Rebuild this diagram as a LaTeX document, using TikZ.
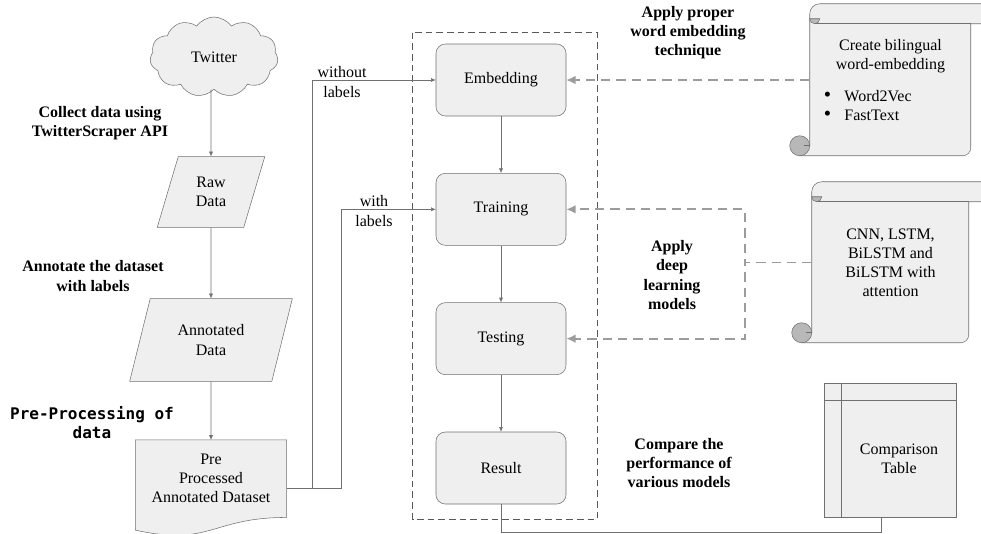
\documentclass[tikz,border=0pt]{standalone}
\usepackage{fontspec}
\setmainfont{Liberation Serif}
\newfontfamily\codefont{DejaVu Sans Mono}
\usetikzlibrary{shapes.geometric, shapes.symbols, arrows.meta, positioning, backgrounds}
\definecolor{boxfill}{HTML}{EFEFEF}
\definecolor{boxline}{HTML}{707070}
\definecolor{dashline}{HTML}{9C9C9C}
\definecolor{curlfill}{HTML}{B8B8B8}
\newcommand{\txtsize}{\fontsize{12}{14.3}\selectfont}

\begin{document}
\begin{tikzpicture}[x=0.75pt, y=-0.75pt, node distance=97pt, font=\txtsize]
	\tikzstyle{cloudbox} = [cloud, cloud puffs=11, cloud puff arc=110, aspect=1.7, 
	minimum width=96pt, minimum height=60pt, draw=boxline, fill=boxfill]
	\tikzstyle{io} = [trapezium, trapezium left angle=72, trapezium right 
	angle=108, trapezium stretches=true, align=center, draw=boxline, fill=boxfill]
	\tikzstyle{process} = [rectangle, rounded corners=7pt, minimum width=97.5pt, 
	minimum height=54pt, align=center, draw=boxline, fill=boxfill]
	\tikzstyle{plain} = [align=center]
	\tikzstyle{note} = [align=center, font=\txtsize\bfseries]
	\tikzstyle{shapeline} = [draw=boxline, fill=boxfill]
	\tikzstyle{curl} = [draw=boxline, fill=curlfill]
	\tikzstyle{arrow} = [draw=boxline, -{Latex[length=3.5pt,width=3pt]}]
	\tikzstyle{line} = [draw=boxline]
	\tikzstyle{dasharrow} = [draw=dashline, line width=1.3pt, dash pattern=on 7pt off 4.5pt, 
	-{Latex[length=7pt,width=6.5pt]}]
	\tikzstyle{groupbox} = [draw=black!65, line width=1.1pt, dash pattern=on 5pt off 3pt]
	\useasboundingbox (0,0) rectangle (981,533);
	\node (twitter) [cloudbox] at (214,57) {Twitter};
	\node (raw) [io, minimum width=81pt, minimum height=53pt, below of=twitter, 
	xshift=-2.25pt, yshift=-4.25pt] {Raw\\Data};
	\node (annotated) [io, minimum width=123pt, minimum height=62pt, below of=raw, 
	yshift=-14pt] {Annotated\\Data};
	\node (dataset) [plain, minimum width=113pt, minimum height=57.75pt, 
	below of=annotated, yshift=-7pt] {Pre\\Processed\\Annotated Dataset};
	\node (embedding) [process] at (501,80) {Embedding};
	\node (training) [process, below of=embedding] {Training};
	\node (testing) [process, below of=training] {Testing};
	\node (result) [process, below of=testing] {Result};
	\node (wordvec) [plain, minimum width=120.75pt, minimum height=114pt] at (890.5,80) 
	{Create bilingual\\word-embedding\\[9pt]
	\makebox[110pt][l]{\hspace{5pt}\smash{\scalebox{1.3}{\textbullet}}\hspace{10pt}Word2Vec}\\
	\makebox[110pt][l]{\hspace{5pt}\smash{\scalebox{1.3}{\textbullet}}\hspace{10pt}FastText}};
	\node (models) [plain, minimum width=117.75pt, minimum height=120.75pt] at (890.5,262.5) 
	{CNN, LSTM,\\BiLSTM and\\BiLSTM with\\attention};
	\node (table) [plain, minimum width=85.5pt, minimum height=87pt] at (899,459) 
	{Comparison\\Table};
	\node (collect) [note] at (100,123) {Collect data using\\TwitterScraper API};
	\node (annotate) [note] at (93,276) {Annotate the dataset\\with labels};
	\node (preprocess) [align=center, font=\txtsize\codefont\bfseries] at (92,423) 
	{Pre-Processing of\\data};
	\node (nolabels) [plain] at (342,82) {without\\labels};
	\node (withlabels) [plain] at (374,211) {with\\labels};
	\node (applyembed) [note] at (688,33) {Apply proper\\word embedding\\technique};
	\node (applydeep) [note] at (672,275) {Apply\\deep\\learning\\models};
	\node (compare) [note] at (679,463) {Compare the\\performance of\\various models};
	% shapes behind the text nodes
	\begin{scope}[on background layer]
	\filldraw[shapeline] (dataset.north west) -- (dataset.north east) -- (dataset.south east) 
	.. controls (dataset.south) and ([yshift=-22pt]dataset.south) .. 
	([yshift=-9.5pt]dataset.south west) -- cycle;
	\filldraw[shapeline] ([xshift=-12.75pt,yshift=12.75pt]table.north west) rectangle 
	(table.south east);
	\draw[line] ([yshift=12.75pt]table.north west) -- (table.south west);
	\draw[line] ([xshift=-12.75pt]table.north west) -- (table.north east);
	\end{scope}
	\begin{scope}[on background layer, shift={(wordvec.north west)}]
	\filldraw[shapeline] (0,142) -- (0,10) arc[start angle=180, end angle=90, radius=7.5pt] 
	-- (230,0) -- (230,20) -- (161,20) -- (161,144) 
	arc[start angle=0, end angle=-90, radius=6pt] -- (-10,152) -- cycle;
	\draw[line] (5,20) -- (161,20);
	\filldraw[curl] (0,15) arc[start angle=180, end angle=360, radius=3.75pt] -- cycle;
	\filldraw[curl] (-10,142) circle[radius=7.5pt];
	\draw[line] (0,142) -- (-6,142);
	\end{scope}
	\begin{scope}[on background layer, shift={(models.north west)}]
	\filldraw[shapeline] (0,151) -- (0,10) arc[start angle=180, end angle=90, radius=7.5pt] 
	-- (230,0) -- (230,20) -- (157,20) -- (157,153) 
	arc[start angle=0, end angle=-90, radius=6pt] -- (-10,161) -- cycle;
	\draw[line] (5,20) -- (157,20);
	\filldraw[curl] (0,15) arc[start angle=180, end angle=360, radius=3.75pt] -- cycle;
	\filldraw[curl] (-10,151) circle[radius=7.5pt];
	\draw[line] (0,151) -- (-6,151);
	\end{scope}
	\draw[groupbox] ([xshift=-17.25pt,yshift=8.25pt]embedding.north west) rectangle 
	([xshift=23.25pt,yshift=-11.25pt]result.south east);
	\draw [arrow] (twitter.south -| raw.north) -- (raw);
	\draw [arrow] (raw) -- (annotated);
	\draw [arrow] (annotated) -- (dataset);
	\draw [arrow] ([yshift=-7.5pt]dataset.east) -- ++(26,0) |- (embedding.west);
	\draw [arrow] ([yshift=-7.5pt]dataset.east) -- ++(55,0) |- (training.west);
	\draw [arrow] (embedding) -- (training);
	\draw [arrow] (training) -- (testing);
	\draw [arrow] (testing) -- (result);
	\draw [line] (result.south) -- ++(0,28) -| ([xshift=-13.5pt]table.south);
	\draw [dasharrow] (wordvec.west) -- (embedding.east);
	\draw [dasharrow] (models.west) -- ++(-67,0) |- (training.east);
	\draw [dasharrow] (models.west) -- ++(-67,0) |- (testing.east);
\end{tikzpicture}
\end{document}
